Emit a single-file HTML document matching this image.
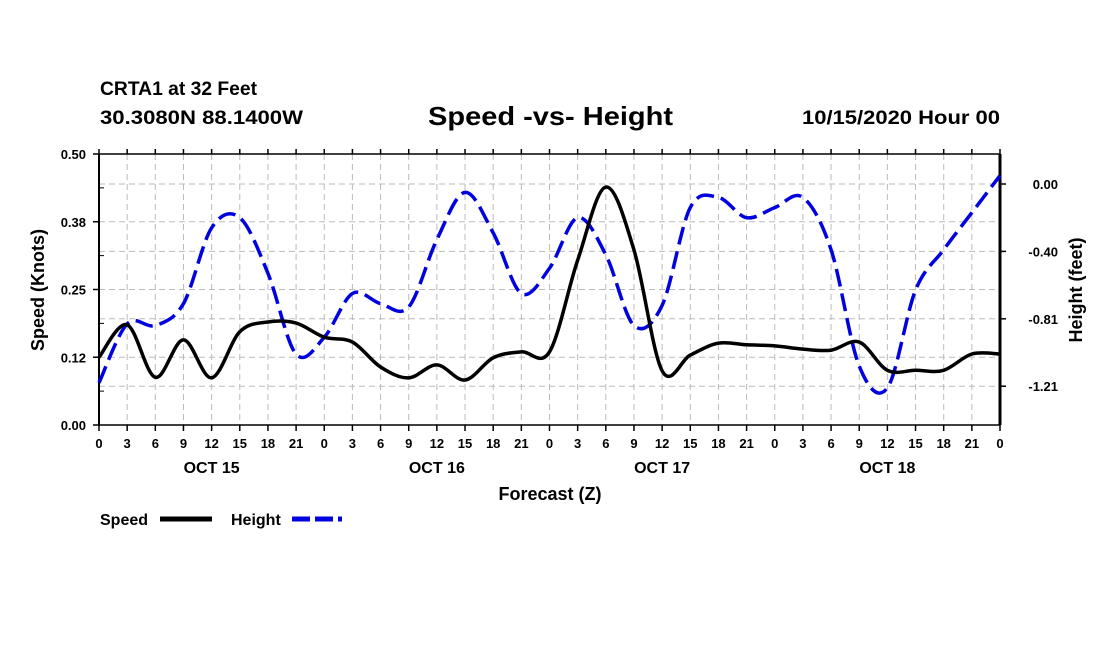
<!DOCTYPE html>
<html><head><meta charset="utf-8"><style>
body{margin:0;background:#fff;}
svg{display:block;font-family:"Liberation Sans",Arial,sans-serif;font-weight:bold;}
</style></head><body>
<svg id="chart" width="1100" height="650" viewBox="0 0 1100 650">
<text x="100" y="95" font-size="19" textLength="157" lengthAdjust="spacingAndGlyphs">CRTA1 at 32 Feet</text>
<text x="100" y="124" font-size="19" textLength="203" lengthAdjust="spacingAndGlyphs">30.3080N 88.1400W</text>
<text x="428" y="125" font-size="26" textLength="245" lengthAdjust="spacingAndGlyphs">Speed -vs- Height</text>
<text x="802" y="124" font-size="19" textLength="198" lengthAdjust="spacingAndGlyphs">10/15/2020 Hour 00</text>
<g id="grid"></g><g id="axes"></g><g id="series"></g>
<text x="550" y="500" font-size="18" text-anchor="middle">Forecast (Z)</text>
<text transform="translate(44,290) rotate(-90)" font-size="18" text-anchor="middle">Speed (Knots)</text>
<text transform="translate(1082,290) rotate(-90)" font-size="18" text-anchor="middle">Height (feet)</text>
<g>
<text x="100" y="525" font-size="16">Speed</text>
<line x1="160" y1="519" x2="212" y2="519" stroke="#000" stroke-width="5"/>
<text x="231" y="525" font-size="16">Height</text>
<line x1="292" y1="519" x2="342" y2="519" stroke="#0000e0" stroke-width="5" stroke-dasharray="18,5"/>
</g>
</svg>
<script>
const hours=[0,3,6,9,12,15,18,21,24,27,30,33,36,39,42,45,48,51,54,57,60,63,66,69,72,75,78,81,84,87,90,93,96];
const speed=[0.125,0.185,0.088,0.157,0.087,0.172,0.190,0.188,0.162,0.153,0.107,0.087,0.111,0.083,0.124,0.135,0.135,0.304,0.439,0.323,0.100,0.129,0.151,0.148,0.146,0.140,0.138,0.153,0.101,0.101,0.101,0.131,0.131];
const height=[-1.18,-0.83,-0.84,-0.71,-0.26,-0.20,-0.53,-1.01,-0.91,-0.65,-0.71,-0.73,-0.33,-0.05,-0.29,-0.65,-0.50,-0.20,-0.42,-0.84,-0.72,-0.14,-0.08,-0.20,-0.14,-0.08,-0.39,-1.08,-1.21,-0.63,-0.39,-0.17,0.05];
const leftTicks=[0,0.125,0.25,0.375,0.5];
const leftLabels=["0.00","0.12","0.25","0.38","0.50"];
const rightTicks=[0,-0.40,-0.80,-1.20];
const rightLabels=["0.00","-0.40","-0.81","-1.21"];
const xTickHours=[0,3,6,9,12,15,18,21,24,27,30,33,36,39,42,45,48,51,54,57,60,63,66,69,72,75,78,81,84,87,90,93,96];
const dayLabels=["OCT 15","OCT 16","OCT 17","OCT 18"];
const dayHours=[12,36,60,84];
const X0=99,X1=1000,Y0=154,Y1=425;
const xs=h=>X0+(h/96)*(X1-X0);
const ysL=v=>Y1-(v/0.5)*(Y1-Y0);
const ysR=v=>184-v*168.5;
const NS="http://www.w3.org/2000/svg";
function mk(tag,attrs,parent,text){const e=document.createElementNS(NS,tag);for(const k in attrs)e.setAttribute(k,attrs[k]);if(text!==undefined)e.textContent=text;parent.appendChild(e);return e;}
const grid=document.getElementById('grid'),axes=document.getElementById('axes'),series=document.getElementById('series');
xTickHours.forEach((h,i)=>{
 const x=xs(h);
 if(i>0&&i<xTickHours.length-1){const g=mk('line',{x1:x,y1:Y0,x2:x,y2:Y1,stroke:'#bbb','stroke-width':1,'stroke-dasharray':'6,4'},grid);
 
 }
 mk('line',{x1:x,y1:Y1,x2:x,y2:Y1+6,stroke:'#000','stroke-width':1.5},axes);
 mk('line',{x1:x,y1:Y0,x2:x,y2:Y0-5,stroke:'#000','stroke-width':1.5},axes);
 const t=mk('text',{x:x,y:448,'font-size':13,'text-anchor':'middle'},axes,String(h%24));
 
 
});
dayLabels.forEach((d,i)=>{const t=mk('text',{x:xs(dayHours[i]),y:473,'font-size':16,'text-anchor':'middle'},axes,d);
 
 });
leftTicks.forEach((v,i)=>{const y=ysL(v);
 if(i>0&&i<leftTicks.length-1){const g=mk('line',{x1:X0,y1:y,x2:X1,y2:y,stroke:'#bbb','stroke-width':1,'stroke-dasharray':'6,4'},grid);
 
 }
 mk('line',{x1:X0-6,y1:y,x2:X0,y2:y,stroke:'#000','stroke-width':1.5},axes);
 const t=mk('text',{x:86,y:y+5,'font-size':13,'text-anchor':'end'},axes,leftLabels[i]);
 
 });
[0.0625,0.1875,0.3125,0.4375].forEach(v=>mk('line',{x1:X0,y1:ysL(v),x2:X0+5,y2:ysL(v),stroke:'#000','stroke-width':1},axes));
rightTicks.forEach((v,i)=>{const y=ysR(v);
 const g=mk('line',{x1:X0,y1:y,x2:X1,y2:y,stroke:'#bbb','stroke-width':1,'stroke-dasharray':'6,4'},grid);
 
 
 mk('line',{x1:X1,y1:y,x2:X1+6,y2:y,stroke:'#000','stroke-width':1.5},axes);
 const t=mk('text',{x:1058,y:y+5,'font-size':13,'text-anchor':'end'},axes,rightLabels[i]);
 
 });
mk('line',{x1:X0,y1:Y0,x2:X1,y2:Y0,stroke:'#000','stroke-width':1.5},axes);
mk('line',{x1:X0,y1:Y1,x2:X1,y2:Y1,stroke:'#000','stroke-width':1.5},axes);
mk('line',{x1:X0,y1:Y0,x2:X0,y2:Y1,stroke:'#000','stroke-width':2},axes);
mk('line',{x1:X1,y1:Y0,x2:X1,y2:Y1,stroke:'#000','stroke-width':3},axes);
function path(vals,ys){
 const p=vals.map((v,i)=>[xs(hours[i]),ys(v)]);
 let d='M'+p[0][0]+','+p[0][1];
 for(let i=0;i<p.length-1;i++){const a=p[Math.max(0,i-1)],b=p[i],c=p[i+1],e=p[Math.min(p.length-1,i+2)];
  const c1=[b[0]+(c[0]-a[0])/6,b[1]+(c[1]-a[1])/6],c2=[c[0]-(e[0]-b[0])/6,c[1]-(e[1]-b[1])/6];
  d+=' C'+c1[0]+','+c1[1]+' '+c2[0]+','+c2[1]+' '+c[0]+','+c[1];}
 return d;}
const hp=mk('path',{d:path(height,ysR),fill:'none',stroke:'#0000e0','stroke-width':3.5,'stroke-dasharray':'18,7'},series);


const sp=mk('path',{d:path(speed,ysL),fill:'none',stroke:'#000','stroke-width':3.5},series);


</script>
</body></html>
